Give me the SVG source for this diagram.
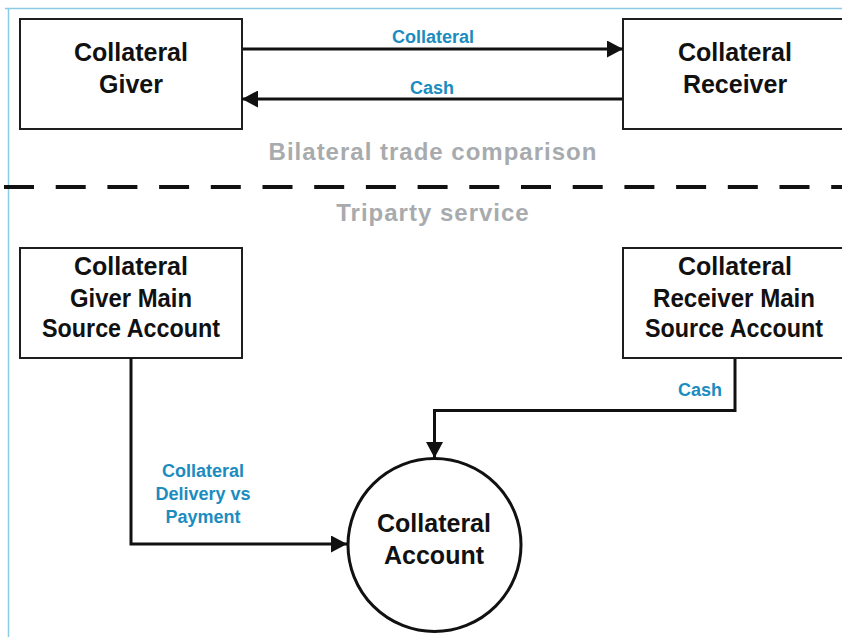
<svg xmlns="http://www.w3.org/2000/svg" width="842" height="637" viewBox="0 0 842 637">
  <style>
    .box { fill: #ffffff; stroke: #1e1e1e; stroke-width: 2; }
    .node-text { font-family: "Liberation Sans", Arial, sans-serif; font-weight: bold; font-size: 25px; fill: #111111; text-anchor: middle; }
    .flow-label { font-family: "Liberation Sans", Arial, sans-serif; font-weight: bold; font-size: 18px; fill: #1b8cc0; text-anchor: middle; }
    .section { font-family: "Liberation Sans", Arial, sans-serif; font-weight: bold; font-size: 24px; fill: #a8abae; text-anchor: middle; letter-spacing: 1px; }
    .flow { fill: none; stroke: #111111; stroke-width: 3; }
  </style>
  <defs>
    <marker id="arrow" markerUnits="userSpaceOnUse" markerWidth="16" markerHeight="17" refX="16" refY="8.5" orient="auto">
      <path d="M0,0 L16,8.5 L0,17 z" fill="#111111"/>
    </marker>
  </defs>

  <rect width="842" height="637" fill="#ffffff"/>

  <!-- page frame -->
  <g id="frame" fill="none" stroke="#8ccbe6" stroke-width="1.5">
    <path d="M5,8.5 H842"/>
    <path d="M8.5,8.5 V637"/>
  </g>

  <!-- bilateral section -->
  <g id="collateral-giver">
    <rect class="box" x="20" y="19" width="222" height="110"/>
    <text class="node-text" x="131" y="61">Collateral</text>
    <text class="node-text" x="131" y="93">Giver</text>
  </g>
  <g id="collateral-receiver">
    <rect class="box" x="623" y="19" width="230" height="110"/>
    <text class="node-text" x="735" y="61">Collateral</text>
    <text class="node-text" x="735" y="93">Receiver</text>
  </g>

  <text class="section" x="433" y="160">Bilateral trade comparison</text>
  <path d="M4,187 H842" stroke="#111111" stroke-width="4" stroke-dasharray="30 21.7" fill="none"/>
  <text class="section" x="433" y="221">Triparty service</text>

  <!-- triparty section -->
  <g id="giver-main-account">
    <rect class="box" x="20" y="248" width="222" height="110"/>
    <text class="node-text" x="131" y="275">Collateral</text>
    <text class="node-text" x="131" y="307" textLength="122" lengthAdjust="spacingAndGlyphs">Giver Main</text>
    <text class="node-text" x="131" y="337" textLength="178" lengthAdjust="spacingAndGlyphs">Source Account</text>
  </g>
  <g id="receiver-main-account">
    <rect class="box" x="623" y="248" width="230" height="110"/>
    <text class="node-text" x="735" y="275">Collateral</text>
    <text class="node-text" x="734" y="307" textLength="162" lengthAdjust="spacingAndGlyphs">Receiver Main</text>
    <text class="node-text" x="734" y="337" textLength="178" lengthAdjust="spacingAndGlyphs">Source Account</text>
  </g>
  <g id="collateral-account">
    <circle cx="434.5" cy="545" r="86.5" fill="#ffffff" stroke="#111111" stroke-width="3"/>
    <text class="node-text" x="434" y="532">Collateral</text>
    <text class="node-text" x="434" y="564">Account</text>
  </g>

  <!-- connectors -->
  <g id="connectors">
    <path class="flow" d="M243,49 H623" marker-end="url(#arrow)"/>
    <path class="flow" d="M622,99 H242" marker-end="url(#arrow)"/>
    <path class="flow" d="M131,358 V544 H347" marker-end="url(#arrow)"/>
    <path class="flow" d="M735,359 V410.5 H434.5 V458" marker-end="url(#arrow)"/>
    <text class="flow-label" x="433" y="43">Collateral</text>
    <text class="flow-label" x="432" y="94">Cash</text>
    <text class="flow-label" x="722" y="396" style="text-anchor:end">Cash</text>
    <text class="flow-label" x="203" y="477">Collateral</text>
    <text class="flow-label" x="203" y="500">Delivery vs</text>
    <text class="flow-label" x="203" y="523">Payment</text>
  </g>
</svg>
